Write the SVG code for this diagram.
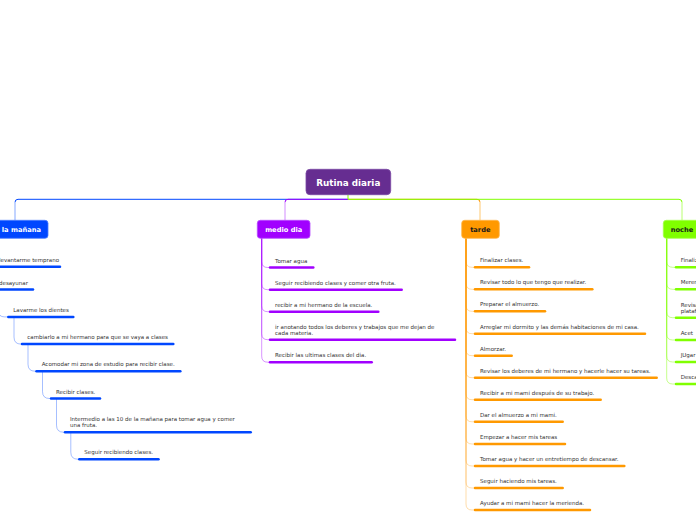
<svg xmlns="http://www.w3.org/2000/svg" width="696" height="520" viewBox="0 0 696 520">
<style>
.t{font-family:"DejaVu Sans",Verdana,sans-serif;font-size:5.5px;fill:#333}
.nt{font-family:"DejaVu Sans",Verdana,sans-serif;font-size:6.7px;font-weight:bold}
.ul{fill:none;stroke-width:2.5;stroke-linecap:round}
.c{fill:none;stroke-width:1}
.b{stroke:#0047ff}.p{stroke:#a100ff}.o{stroke:#ff9900}.g{stroke:#80ff00}
.cb{stroke:#0047ff;stroke-opacity:.35}
.cp{stroke:#a100ff;stroke-opacity:.42}
.co{stroke:#ff9900;stroke-opacity:.33}
.cg{stroke:#80ff00;stroke-opacity:.45}
</style>
<rect width="696" height="520" fill="#fff"/>
<g id="connectors">
<path class="c b" d="M348 199.3H18Q15 199.3 15 202.3"/>
<path class="c" stroke="#85a8ff" d="M15 202.3V220.3"/>
<path class="c p" d="M348 199.3H288Q285 199.3 285 202.3"/>
<path class="c" stroke="#d28cff" d="M285 202.3V220.3"/>
<path class="c o" d="M348 199.3H477Q480 199.3 480 202.3"/>
<path class="c" stroke="#ffc870" d="M480 202.3V220.3"/>
<path class="c g" d="M348 194.7V199.3H679Q682 199.3 682 202.3"/>
<path class="c" stroke="#b8ff70" d="M682 202.3V220.3"/>
<path class="c cb" d="M-12 238.3V260.8Q-12 266.8 -6 266.8"/>
<path class="c cb" d="M-12 238.3V283.5Q-12 289.5 -6 289.5"/>
<path class="c cb" d="M-1.5 289.5V310.9Q-1.5 316.9 4.5 316.9H8.3"/>
<path class="c cb" d="M14 316.9V337.1Q14 344.1 21 344.1H22"/>
<path class="c cb" d="M28 344.1V364.2Q28 371.2 35 371.2H36.5"/>
<path class="c cb" d="M42.5 371.2V391.5Q42.5 398.5 49.5 398.5H51"/>
<path class="c cb" d="M56.5 398.5V425.2Q56.5 432.2 63.5 432.2H65"/>
<path class="c cb" d="M70.8 432.2V452.2Q70.8 459.2 77.8 459.2H79.3"/>
<path class="c cp" d="M261.7 238.3V261.5Q261.7 267.5 267.7 267.5H270"/>
<path class="c cp" d="M261.7 238.3V283.7Q261.7 289.7 267.7 289.7H270"/>
<path class="c cp" d="M261.7 238.3V305.7Q261.7 311.7 267.7 311.7H270"/>
<path class="c cp" d="M261.7 238.3V333.7Q261.7 339.7 267.7 339.7H270"/>
<path class="c cp" d="M261.7 238.3V356.2Q261.7 362.2 267.7 362.2H270"/>
<path class="c co" d="M466 238.3V261.3Q466 267.3 472 267.3H475"/>
<path class="c co" d="M466 238.3V283.3Q466 289.3 472 289.3H475"/>
<path class="c co" d="M466 238.3V305.3Q466 311.3 472 311.3H475"/>
<path class="c co" d="M466 238.3V327.7Q466 333.7 472 333.7H475"/>
<path class="c co" d="M466 238.3V349.7Q466 355.7 472 355.7H475"/>
<path class="c co" d="M466 238.3V371.7Q466 377.7 472 377.7H475"/>
<path class="c co" d="M466 238.3V393.7Q466 399.7 472 399.7H475"/>
<path class="c co" d="M466 238.3V415.8Q466 421.8 472 421.8H475"/>
<path class="c co" d="M466 238.3V438Q466 444 472 444H475"/>
<path class="c co" d="M466 238.3V460Q466 466 472 466H475"/>
<path class="c co" d="M466 238.3V482Q466 488 472 488H475"/>
<path class="c co" d="M466 238.3V504Q466 510 472 510H475"/>
<path class="c cg" d="M666.7 238.3V261.3Q666.7 267.3 672.7 267.3H676"/>
<path class="c cg" d="M666.7 238.3V283.3Q666.7 289.3 672.7 289.3H676"/>
<path class="c cg" d="M666.7 238.3V311.7Q666.7 317.7 672.7 317.7H676"/>
<path class="c cg" d="M666.7 238.3V334Q666.7 340 672.7 340H676"/>
<path class="c cg" d="M666.7 238.3V356Q666.7 362 672.7 362H676"/>
<path class="c cg" d="M666.7 238.3V378Q666.7 384 672.7 384H676"/>
</g>
<g id="root">
<rect x="306" y="169.3" width="84.7" height="25.4" rx="4" fill="#662d91" stroke="#7a48a3" stroke-width="0.8"/>
<text x="348.3" y="186" text-anchor="middle" font-family="DejaVu Sans,Verdana,sans-serif" font-size="8.8" font-weight="bold" fill="#fff">Rutina diaria</text>
</g>
<g id="manana">
<rect x="-40" y="220.3" width="88" height="18" rx="3" fill="#0047ff" stroke="#4d7eff" stroke-width="0.8"/>
<text class="nt" x="41" y="231.8" text-anchor="end" fill="#fff">Por la mañana</text>
</g>
<g id="manana-items">
<path class="ul b" d="M-6 266.8H60"/><text class="t" x="-1" y="261.8">levantarme temprano</text>
<path class="ul b" d="M-6 289.5H33"/><text class="t" x="-1" y="284.5">desayunar</text>
<path class="ul b" d="M8.3 316.9H73.3"/><text class="t" x="13.3" y="311.9">Lavarme los dientes</text>
<path class="ul b" d="M22 344.1H173.3"/><text class="t" x="27.3" y="339.1">cambiarlo a mi hermano para que se vaya a clases</text>
<path class="ul b" d="M36.5 371.2H180.3"/><text class="t" x="41.7" y="366.2">Acomodar mi zona de estudio para recibir clase.</text>
<path class="ul b" d="M51 398.5H100"/><text class="t" x="56" y="393.5">Recibir clases.</text>
<path class="ul b" d="M65 432.2H250.7"/><text class="t" x="70" y="420.7">Intermedio a las 10 de la mañana para tomar agua y comer</text><text class="t" x="70" y="426.7">una fruta.</text>
<path class="ul b" d="M79.3 459.2H158.5"/><text class="t" x="84.3" y="454.2">Seguir recibiendo clases.</text>
</g>
<g id="mediodia">
<rect x="257.3" y="220.3" width="52.7" height="18" rx="3" fill="#a100ff" stroke="#b84dff" stroke-width="0.8"/>
<text class="nt" x="283.7" y="231.8" text-anchor="middle" fill="#fff">medio dia</text>
</g>
<g id="mediodia-items">
<path class="ul p" d="M270 267.5H313.3"/><text class="t" x="275" y="262.5">Tomar agua</text>
<path class="ul p" d="M270 289.7H401.7"/><text class="t" x="275" y="284.7">Seguir recibiendo clases y comer otra fruta.</text>
<path class="ul p" d="M270 311.7H378.3"/><text class="t" x="275" y="306.7">recibir a mi hermano de la escuela.</text>
<path class="ul p" d="M270 339.7H455"/><text class="t" x="275" y="328.7">ir anotando todos los deberes y trabajos que me dejan de</text><text class="t" x="275" y="334.7">cada materia.</text>
<path class="ul p" d="M270 362.2H371.7"/><text class="t" x="275" y="357.2">Recibir las ultimas clases del dia.</text>
</g>
<g id="tarde">
<rect x="461.7" y="220.3" width="37.6" height="18" rx="3" fill="#ff9900" stroke="#ffb84d" stroke-width="0.8"/>
<text class="nt" x="480.3" y="231.8" text-anchor="middle" fill="#1a1a1a">tarde</text>
</g>
<g id="tarde-items">
<path class="ul o" d="M475 267.3H529"/><text class="t" x="480" y="262.3">Finalizar clases.</text>
<path class="ul o" d="M475 289.3H592.3"/><text class="t" x="480" y="284.3">Revisar todo lo que tengo que realizar.</text>
<path class="ul o" d="M475 311.3H545"/><text class="t" x="480" y="306.3">Preparar el almuerzo.</text>
<path class="ul o" d="M475 333.7H645"/><text class="t" x="480" y="328.7">Arreglar mi dormito y las demás habitaciones de mi casa.</text>
<path class="ul o" d="M475 355.7H511.7"/><text class="t" x="480" y="350.7">Almorzar.</text>
<path class="ul o" d="M475 377.7H656.7"/><text class="t" x="480" y="372.7">Revisar los deberes de mi hermano y hacerle hacer su tareas.</text>
<path class="ul o" d="M475 399.7H600.7"/><text class="t" x="480" y="394.7">Recibir a mi mami después de su trabajo.</text>
<path class="ul o" d="M475 421.8H562.7"/><text class="t" x="480" y="416.8">Dar el almuerzo a mi mami.</text>
<path class="ul o" d="M475 444H565"/><text class="t" x="480" y="439">Empezar a hacer mis tareas</text>
<path class="ul o" d="M475 466H624.3"/><text class="t" x="480" y="461">Tomar agua y hacer un entretiempo de descansar.</text>
<path class="ul o" d="M475 488H562.7"/><text class="t" x="480" y="483">Seguir haciendo mis tareas.</text>
<path class="ul o" d="M475 510H590"/><text class="t" x="480" y="505">Ayudar a mi mami hacer la merienda.</text>
</g>
<g id="noche">
<rect x="663.3" y="220.3" width="50" height="18" rx="3" fill="#80ff00" stroke="#a6ff4d" stroke-width="0.8"/>
<text class="nt" x="670.7" y="231.8" fill="#1a1a1a">noche</text>
</g>
<g id="noche-items">
<path class="ul g" d="M676 267.3H720"/><text class="t" x="680.7" y="262.3">Finalizar</text>
<path class="ul g" d="M676 289.3H720"/><text class="t" x="680.7" y="284.3">Merendar</text>
<path class="ul g" d="M676 317.7H720"/><text class="t" x="680.7" y="306.7">Revisar</text><text class="t" x="680.7" y="312.7">plataforma</text>
<path class="ul g" d="M676 340H720"/><text class="t" x="680.7" y="335">Acet</text>
<path class="ul g" d="M676 362H720"/><text class="t" x="680.7" y="357">JUgar</text>
<path class="ul g" d="M676 384H720"/><text class="t" x="680.7" y="379">Descansar</text>
</g>
</svg>
